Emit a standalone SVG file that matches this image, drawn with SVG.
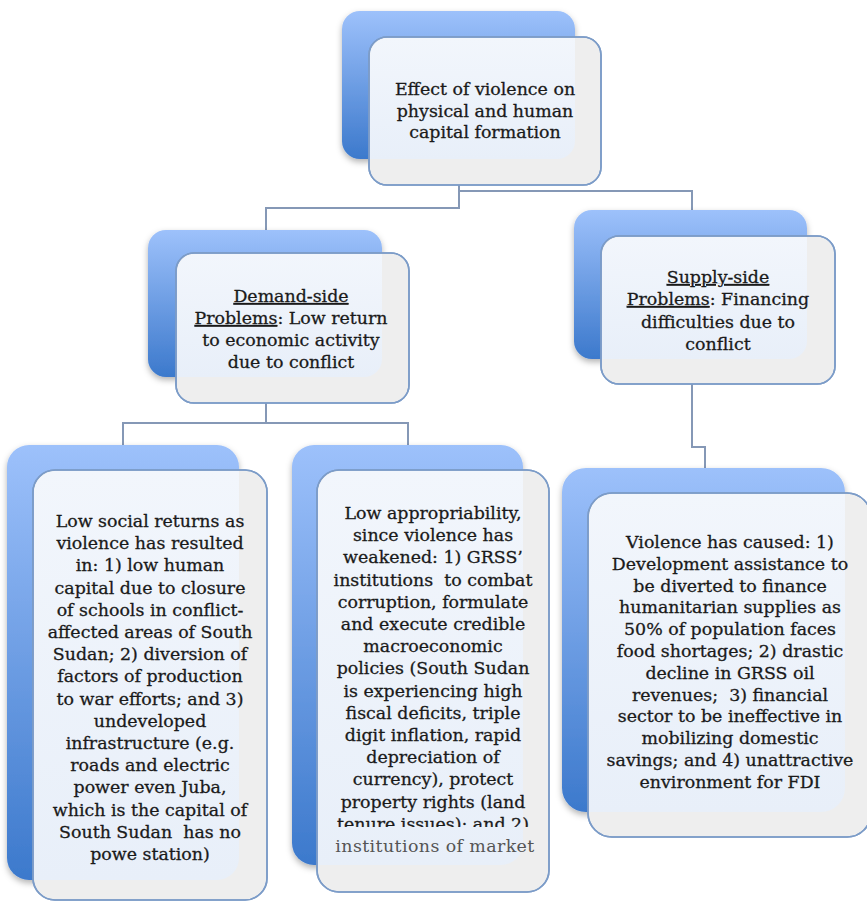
<svg xmlns="http://www.w3.org/2000/svg" width="867" height="902" viewBox="0 0 867 902">
<style>
.back{fill:url(#gBlue);filter:url(#sh)}
.front{fill:#eeeeee;stroke:#7c9cc8;stroke-width:1.6}
.tint{fill:url(#gTint)}
.outline{fill:none;stroke:#7c9cc8;stroke-width:1.6}
.conn{fill:none;stroke:#8598b6;stroke-width:2}
text{font-family:"DejaVu Serif","Liberation Serif",serif;font-size:17.4px;fill:#1a1a1a;stroke:#1a1a1a;stroke-width:0.3px;text-anchor:middle;white-space:pre}
.u{text-decoration:underline}
.faint{fill:#555555;stroke:none;letter-spacing:0.4px}
</style>
<defs>
<linearGradient id="gBlue" x1="0" y1="0" x2="0" y2="1">
<stop offset="0" stop-color="#9dc1fb"/>
<stop offset="1" stop-color="#3c79cc"/>
</linearGradient>
<linearGradient id="gTint" x1="0" y1="0" x2="0" y2="1">
<stop offset="0" stop-color="#f2f6fc"/>
<stop offset="1" stop-color="#e8eff9"/>
</linearGradient>
<filter id="sh" x="-10%" y="-10%" width="125%" height="125%">
<feDropShadow dx="0" dy="3" stdDeviation="3" flood-color="#000" flood-opacity="0.3"/>
</filter>
<clipPath id="clipMid"><rect x="300" y="480" width="260" height="347"/></clipPath>
</defs>

<g id="connectors">
<path class="conn" d="M459 160 V208 H266 V230"/>
<path class="conn" d="M459 191 H692 V210"/>
<path class="conn" d="M266 377 V423 H123 V445"/>
<path class="conn" d="M266 423 H408 V445"/>
<path class="conn" d="M692 359 V447 H705 V468"/>
</g>

<g id="node-top">
<rect class="back" x="342" y="11" width="233" height="148" rx="18"/>
<rect class="front" x="369" y="37" width="232" height="148" rx="18"/>
<path class="tint" d="M388 38 H575 V141 A18 18 0 0 1 557 159 H370 V56 A18 18 0 0 1 388 38 Z"/>
<rect class="outline" x="369" y="37" width="232" height="148" rx="18"/>
<text x="485" y="95">Effect of violence on</text>
<text x="485" y="116.5">physical and human</text>
<text x="485" y="138">capital formation</text>
</g>

<g id="node-demand">
<rect class="back" x="148" y="230" width="234" height="147" rx="18"/>
<rect class="front" x="176" y="253" width="233" height="150" rx="18"/>
<path class="tint" d="M195 254 H382 V359 A18 18 0 0 1 364 377 H177 V272 A18 18 0 0 1 195 254 Z"/>
<rect class="outline" x="176" y="253" width="233" height="150" rx="18"/>
<text x="291" y="302"><tspan class="u">Demand-side</tspan></text>
<text x="291" y="324"><tspan class="u">Problems</tspan>: Low return</text>
<text x="291" y="346">to economic activity</text>
<text x="291" y="368">due to conflict</text>
</g>

<g id="node-supply">
<rect class="back" x="574" y="210" width="233" height="149" rx="18"/>
<rect class="front" x="601" y="236" width="234" height="148" rx="18"/>
<path class="tint" d="M620 237 H807 V341 A18 18 0 0 1 789 359 H602 V255 A18 18 0 0 1 620 237 Z"/>
<rect class="outline" x="601" y="236" width="234" height="148" rx="18"/>
<text x="718" y="283"><tspan class="u">Supply-side</tspan></text>
<text x="718" y="305"><tspan class="u">Problems</tspan>: Financing</text>
<text x="718" y="327.5">difficulties due to</text>
<text x="718" y="350">conflict</text>
</g>

<g id="node-social">
<rect class="back" x="7" y="445" width="232" height="435" rx="22"/>
<rect class="front" x="33" y="470" width="234" height="430" rx="22"/>
<path class="tint" d="M55 471 H239 V858 A22 22 0 0 1 217 880 H34 V493 A22 22 0 0 1 55 471 Z"/>
<rect class="outline" x="33" y="470" width="234" height="430" rx="22"/>
<text x="150" y="527">Low social returns as</text>
<text x="150" y="549.2">violence has resulted</text>
<text x="150" y="571.4">in: 1) low human</text>
<text x="150" y="593.6">capital due to closure</text>
<text x="150" y="615.8">of schools in conflict-</text>
<text x="150" y="638">affected areas of South</text>
<text x="150" y="660.2">Sudan; 2) diversion of</text>
<text x="150" y="682.4">factors of production</text>
<text x="150" y="704.6">to war efforts; and 3)</text>
<text x="150" y="726.8">undeveloped</text>
<text x="150" y="749">infrastructure (e.g.</text>
<text x="150" y="771.2">roads and electric</text>
<text x="150" y="793.4">power even Juba,</text>
<text x="150" y="815.6">which is the capital of</text>
<text x="150" y="837.8">South Sudan  has no</text>
<text x="150" y="860">powe station)</text>
</g>

<g id="node-appropriability">
<rect class="back" x="292" y="445" width="231" height="420" rx="22"/>
<rect class="front" x="317" y="470" width="232" height="422" rx="22"/>
<path class="tint" d="M339 471 H523 V843 A22 22 0 0 1 501 865 H318 V493 A22 22 0 0 1 339 471 Z"/>
<rect class="outline" x="317" y="470" width="232" height="422" rx="22"/>
<g clip-path="url(#clipMid)">
<text x="433" y="519">Low appropriability,</text>
<text x="433" y="541.2">since violence has</text>
<text x="433" y="563.4">weakened: 1) GRSS’</text>
<text x="433" y="585.6">institutions  to combat</text>
<text x="433" y="607.8">corruption, formulate</text>
<text x="433" y="630">and execute credible</text>
<text x="433" y="652.2">macroeconomic</text>
<text x="433" y="674.4">policies (South Sudan</text>
<text x="433" y="696.6">is experiencing high</text>
<text x="433" y="718.8">fiscal deficits, triple</text>
<text x="433" y="741">digit inflation, rapid</text>
<text x="433" y="763.2">depreciation of</text>
<text x="433" y="785.4">currency), protect</text>
<text x="433" y="807.6">property rights (land</text>
<text x="433" y="829.8">tenure issues); and 2)</text>
</g>
<text class="faint" x="435" y="852">institutions of market</text>
</g>

<g id="node-financing">
<rect class="back" x="562" y="468" width="283" height="344" rx="24"/>
<rect class="front" x="588" y="493" width="283" height="344" rx="24"/>
<path class="tint" d="M612 494 H845 V788 A24 24 0 0 1 821 812 H589 V518 A24 24 0 0 1 612 494 Z"/>
<rect class="outline" x="588" y="493" width="283" height="344" rx="24"/>
<text x="730" y="548">Violence has caused: 1)</text>
<text x="730" y="569.8">Development assistance to</text>
<text x="730" y="591.6">be diverted to finance</text>
<text x="730" y="613.4">humanitarian supplies as</text>
<text x="730" y="635.2">50% of population faces</text>
<text x="730" y="657">food shortages; 2) drastic</text>
<text x="730" y="678.8">decline in GRSS oil</text>
<text x="730" y="700.6">revenues;  3) financial</text>
<text x="730" y="722.4">sector to be ineffective in</text>
<text x="730" y="744.2">mobilizing domestic</text>
<text x="730" y="766">savings; and 4) unattractive</text>
<text x="730" y="787.8">environment for FDI</text>
</g>
</svg>
